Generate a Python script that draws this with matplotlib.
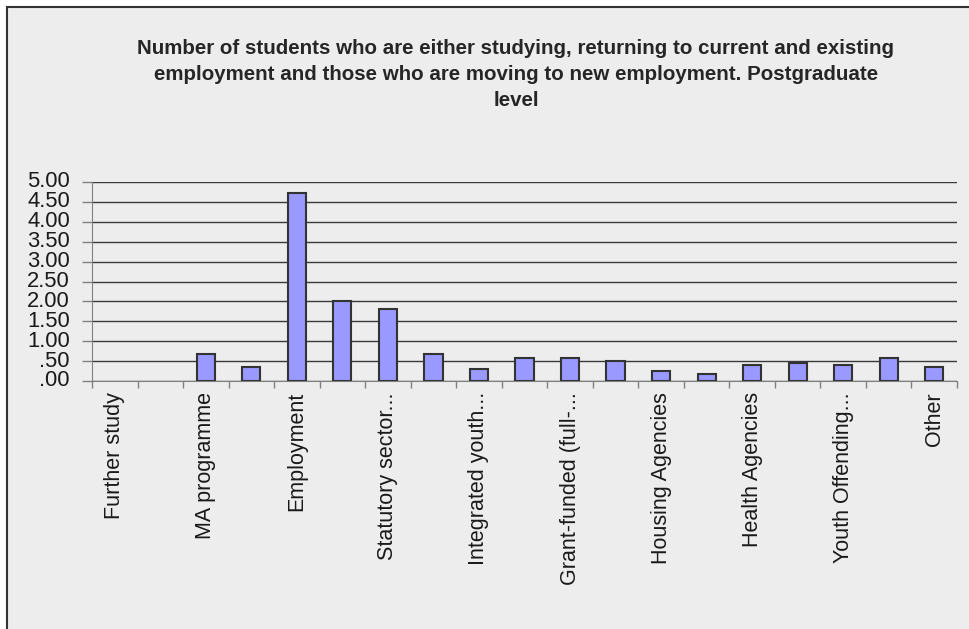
import numpy as np
import matplotlib.pyplot as plt
from matplotlib.patches import Rectangle
from matplotlib.ticker import FuncFormatter

plt.rcParams['font.family'] = ['Liberation Sans', 'DejaVu Sans']

categories = ["Further study", "", "MA programme", "", "Employment", "",
              "Statutory sector...", "", "Integrated youth...", "",
              "Grant-funded (full-...", "", "Housing Agencies", "",
              "Health Agencies", "", "Youth Offending...", "", "Other"]
values = [0, 0, 0.68, 0.35, 4.73, 2.01, 1.82, 0.68, 0.30, 0.58,
          0.58, 0.50, 0.25, 0.17, 0.40, 0.45, 0.40, 0.59, 0.36]
title = ("Number of students who are either studying, returning to current and existing\n"
         "employment and those who are moving to new employment. Postgraduate\n"
         "level")

bg = "#ededed"
fig = plt.figure(figsize=(9.7, 6.29), dpi=100, facecolor="white")
fig.patches.append(Rectangle((7 / 970, -0.1), 1.1, 1 - 7 / 629 + 0.1,
                             transform=fig.transFigure, facecolor=bg,
                             edgecolor="#333333", linewidth=1.5, zorder=-5))

ax = fig.add_axes([92 / 970, 1 - 381 / 629, 865 / 970, 199 / 629])
ax.set_facecolor(bg)
ax.patch.set_alpha(0)

x = np.arange(len(categories))
ax.bar(x, values, width=0.4, color="#9999ff", edgecolor="#333333",
       linewidth=[1.5 if v > 0 else 0 for v in values], zorder=3)

ax.set_xlim(-0.5, len(categories) - 0.5)
ax.set_ylim(0, 5)
ax.set_yticks(np.arange(0, 5.01, 0.5))
ax.yaxis.set_major_formatter(FuncFormatter(lambda v, p: f"{v:.2f}".lstrip("0") if v < 1 else f"{v:.2f}"))
ax.grid(axis="y", color="#3a3a3a", linewidth=1.0, zorder=1)

ax.set_xticks(x[::2])
ax.set_xticklabels(categories[::2], rotation=90, va="top", ha="center")
ax.set_xticks(np.arange(-0.5, len(categories), 1), minor=True)
ax.tick_params(axis="x", which="major", length=0, pad=8, labelsize=15.5, colors="#1a1a1a")
ax.tick_params(axis="x", which="minor", length=5, width=1, color="#808080", direction="out")
ax.tick_params(axis="y", length=7, width=1, color="#808080", pad=9, labelsize=15.8,
               labelcolor="#1a1a1a")
for lbl in ax.get_yticklabels():
    lbl.set_verticalalignment("center")

for s in ["top", "right"]:
    ax.spines[s].set_visible(False)
ax.spines["left"].set_color("#808080")
ax.spines["bottom"].set_color("#808080")

fig.text(516 / 970, 1 - 39 / 629, title, ha="center", va="top", fontsize=14.8,
         fontweight="bold", color="#262626", linespacing=1.45)

fig.savefig("out.png", dpi=100, facecolor="white")
